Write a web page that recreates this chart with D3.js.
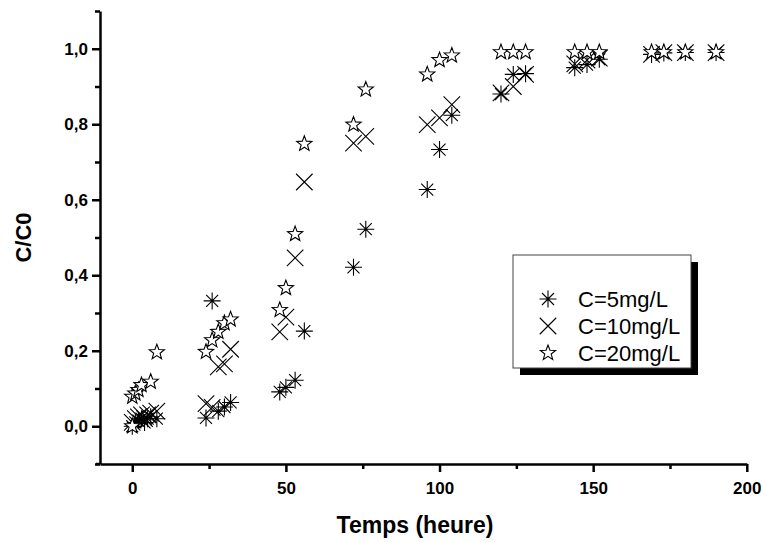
<!DOCTYPE html>
<html><head><meta charset="utf-8">
<script src="https://cdn.jsdelivr.net/npm/d3@7"></script>
<style>body{margin:0;background:#fff}svg{display:block}</style>
</head><body><svg id="c" width="763" height="542"></svg>
<script>
// ---- data ----
const seriesNames = ["C=5mg/L", "C=10mg/L", "C=20mg/L"];
const t5 = [0,1,2,3,4,5,6,8, 24,26,28,30,32, 48,50,53,56, 72,76, 96,100,104, 120,124,128, 144,148,152, 169,173,180,190];
const v5 = [0.00,0.01,0.015,0.02,0.01,0.02,0.025,0.02, 0.022,0.332,0.04,0.051,0.063, 0.091,0.103,0.122,0.252, 0.421,0.522, 0.627,0.733,0.824, 0.880,0.932,0.934, 0.95,0.958,0.972, 0.985,0.989,0.99,0.99];
const t10 = [0,1,2,3,4,5,6,8, 24,26,28,30,32, 48,50,53,56, 72,76, 96,100,104, 120,124,128, 144,148,152, 169,173,180,190];
const v10 = [0.01,0.02,0.025,0.03,0.02,0.03,0.035,0.04, 0.06,0.05,0.157,0.165,0.204, 0.25,0.289,0.446,0.647, 0.75,0.768, 0.799,0.817,0.852, 0.883,0.90,0.932, 0.96,0.97,0.975, 0.985,0.99,0.99,0.99];
const t20 = [0,0,1,2,3,6,8, 24,26,28,30,32, 48,50,53,56, 72,76, 96,100,104, 120,124,128, 144,148,152, 169,173,180,190];
const v20 = [0,0.078,0.087,0.096,0.109,0.118,0.196, 0.197,0.228,0.25,0.273,0.283, 0.308,0.366,0.509,0.748, 0.799,0.892, 0.932,0.970,0.982, 0.991,0.991,0.991, 0.991,0.991,0.991, 0.991,0.991,0.991,0.991];
const xMajor = [0,50,100,150,200];
const xMinor = [25,75,125,175];
const yMajor = [0,0.2,0.4,0.6,0.8,1.0];
const yMinor = [-0.1,0.1,0.3,0.5,0.7,0.9,1.1];
const xTitle = "Temps (heure)";
const yTitle = "C/C0";

// ---- chart ----
const svg = d3.select("#c");
const x = d3.scaleLinear().domain([-10.5, 200]).range([100, 746.8]);
const y = d3.scaleLinear().domain([-0.1, 1.1]).range([464, 11]);
const fmt = d => d3.format(".1f")(d).replace(".", ",");
const font = "'Liberation Sans', Arial, sans-serif";

function styleAxis(g){
  g.selectAll("path.domain").attr("stroke","#000").attr("stroke-width",2.5);
  g.selectAll(".tick line").attr("stroke","#000").attr("stroke-width",2.5);
  g.selectAll("text").attr("font-family",font).attr("font-weight","bold").attr("font-size",17).attr("fill","#000");
}
// x axis
const gx = svg.append("g").attr("transform",`translate(0,${y(-0.1)})`);
gx.call(d3.axisBottom(x).tickValues(xMajor).tickSize(8).tickSizeOuter(0).tickPadding(10).tickFormat(d3.format("d"))).call(styleAxis);
const gx2 = svg.append("g").attr("transform",`translate(0,${y(-0.1)})`);
gx2.call(d3.axisBottom(x).tickValues(xMinor).tickSize(5).tickSizeOuter(0).tickFormat("")).call(styleAxis);
gx2.select("path.domain").remove();
svg.append("line").attr("x1",96).attr("x2",x(-10.5)).attr("y1",y(-0.1)).attr("y2",y(-0.1)).attr("stroke","#000").attr("stroke-width",2.5);
// y axis
const gy = svg.append("g").attr("transform",`translate(${x(-10.5)},0)`);
gy.call(d3.axisLeft(y).tickValues(yMajor).tickSize(8).tickSizeOuter(0).tickPadding(4).tickFormat(fmt)).call(styleAxis);
const gy2 = svg.append("g").attr("transform",`translate(${x(-10.5)},0)`);
gy2.call(d3.axisLeft(y).tickValues(yMinor).tickSize(5).tickSizeOuter(0).tickFormat("")).call(styleAxis);
gy2.select("path.domain").remove();

// titles
svg.append("text").attr("x",415).attr("y",533).attr("text-anchor","middle")
  .attr("font-family",font).attr("font-weight","bold").attr("font-size",23).text(xTitle);
svg.append("text").attr("transform",`translate(31,${y(0.5)}) rotate(-90)`).attr("text-anchor","middle")
  .attr("font-family",font).attr("font-weight","bold").attr("font-size",22).text(yTitle);

// markers
const R = 8;
function asteriskPath(r){ let p=""; for(let k=0;k<4;k++){const a=k*Math.PI/4; const dx=r*Math.cos(a), dy=r*Math.sin(a); p+=`M${-dx},${-dy}L${dx},${dy}`;} return p; }
function crossPath(r){ const d=r*0.75; return `M${-d},${-d}L${d},${d}M${-d},${d}L${d},${-d}`; }
function starPath(r){ const ri=r*0.42; let p=""; for(let k=0;k<10;k++){const a=-Math.PI/2+k*Math.PI/5; const rr=k%2?ri:r; p+=(k?"L":"M")+(rr*Math.cos(a)).toFixed(2)+","+(rr*Math.sin(a)).toFixed(2);} return p+"Z"; }
const shapes = [
  {path: asteriskPath(R+0.5), fill:"none"},
  {path: crossPath(R+3), fill:"none"},
  {path: starPath(R), fill:"#fff"}
];
const data = [d3.zip(t5,v5), d3.zip(t10,v10), d3.zip(t20,v20)];
data.forEach((pts,i)=>{
  svg.append("g").selectAll("path").data(pts).join("path")
    .attr("transform",d=>`translate(${x(d[0])},${y(d[1])})`)
    .attr("d",shapes[i].path).attr("fill",shapes[i].fill)
    .attr("stroke","#000").attr("stroke-width",1.1);
});

// legend
const L = {x:513, y:255, w:178, h:113};
svg.append("rect").attr("x",L.x+7).attr("y",L.y+7).attr("width",L.w).attr("height",L.h).attr("fill","#000");
svg.append("rect").attr("x",L.x).attr("y",L.y).attr("width",L.w).attr("height",L.h).attr("fill","#fff").attr("stroke","#444").attr("stroke-width",1);
seriesNames.forEach((n,i)=>{
  const yy = 299 + i*27;
  svg.append("path").attr("transform",`translate(548,${yy})`).attr("d",shapes[i].path).attr("fill",shapes[i].fill).attr("stroke","#000").attr("stroke-width",1.1);
  svg.append("text").attr("x",578).attr("y",yy+8).attr("font-family",font).attr("font-size",22).text(n);
});
</script></body></html>
